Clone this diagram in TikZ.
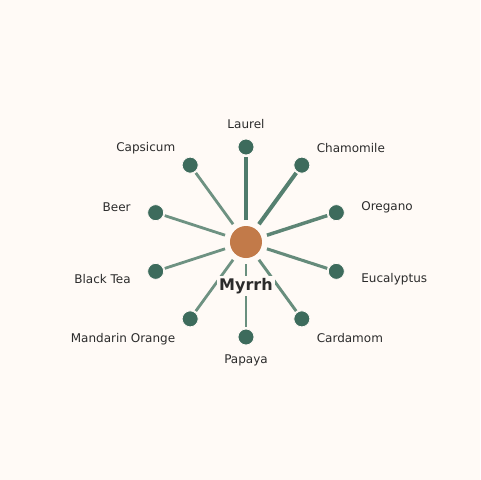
\documentclass[tikz,border=0pt]{standalone}
\usepackage{fontspec}
\setmainfont{DejaVu Sans}
\usetikzlibrary{positioning}

\definecolor{paper}{HTML}{FFFAF6}
\definecolor{leaf}{HTML}{3D6B5C}
\definecolor{core}{HTML}{C27A49}
\definecolor{strong}{HTML}{4F7B6B}
\definecolor{weak}{HTML}{6E9282}
\definecolor{ink}{HTML}{2B2B2B}

\begin{document}
\begin{tikzpicture}
	[x=0.75pt,y=0.75pt,
	 herb/.style={circle, fill=leaf, draw=paper, line width=0.6pt, minimum size=12pt, inner sep=0pt, outer sep=1.2pt},
	 tag/.style={font=\fontsize{9}{11}\selectfont, text=ink, inner sep=0pt},
	 link/.style={line width=#1, line cap=butt}]
	\fill[paper] (-246,-238) rectangle (234,242);
	\useasboundingbox (-246,-238) rectangle (234,242);

	\node[circle, fill=core, minimum size=24pt, inner sep=0pt, outer sep=4.5pt] (n0) at (0,0) {};

	\node[herb] (n1) at (90:95) {};
	\node[herb] (n2) at (54:95) {};
	\node[herb] (n3) at (18:95) {};
	\node[herb] (n4) at (-18:95) {};
	\node[herb] (n5) at (-54:95) {};
	\node[herb] (n6) at (-90:95) {};
	\node[herb] (n7) at (-126:95) {};
	\node[herb] (n8) at (-162:95) {};
	\node[herb] (n9) at (162:95) {};
	\node[herb] (n10) at (126:95) {};

	\node[tag] (t1) at (90:118) {Laurel};
	\node[tag, anchor=west, yshift=-2.2pt] (t2) at (54:120) {Chamomile};
	\node[tag, anchor=west, yshift=-2.2pt] (t3) at (18:121) {Oregano};
	\node[tag, anchor=west] (t4) at (-18:121) {Eucalyptus};
	\node[tag, anchor=west, yshift=0.6pt] (t5) at (-54:120) {Cardamom};
	\node[tag] (t6) at (-90:118) {Papaya};
	\node[tag, anchor=east] (t7) at (-126:120) {Mandarin Orange};
	\node[tag, anchor=east] (t8) at (-162:121) {Black Tea};
	\node[tag, anchor=east, yshift=-2.2pt] (t9) at (162:121) {Beer};
	\node[tag, anchor=east, yshift=-2.2pt] (t10) at (126:120) {Capsicum};

	\draw[link=3.4pt, strong] (n0) -- (n1);
	\draw[link=3pt, strong!80!weak] (n0) -- (n2);
	\draw[link=2.6pt, strong!55!weak] (n0) -- (n3);
	\draw[link=2.3pt, strong!30!weak] (n0) -- (n4);
	\draw[link=2.2pt, strong!20!weak] (n0) -- (n5);
	\draw[link=2.2pt, strong!15!weak] (n0) -- (n6);
	\draw[link=2.1pt, weak] (n0) -- (n7);
	\draw[link=2.1pt, weak] (n0) -- (n8);
	\draw[link=2.1pt, weak] (n0) -- (n9);
	\draw[link=2.1pt, weak] (n0) -- (n10);

	\node[fill=paper, inner sep=1.5pt, text=ink, font=\fontsize{12}{14}\selectfont\bfseries] (lbl) at (0,-44) {Myrrh};
\end{tikzpicture}
\end{document}
